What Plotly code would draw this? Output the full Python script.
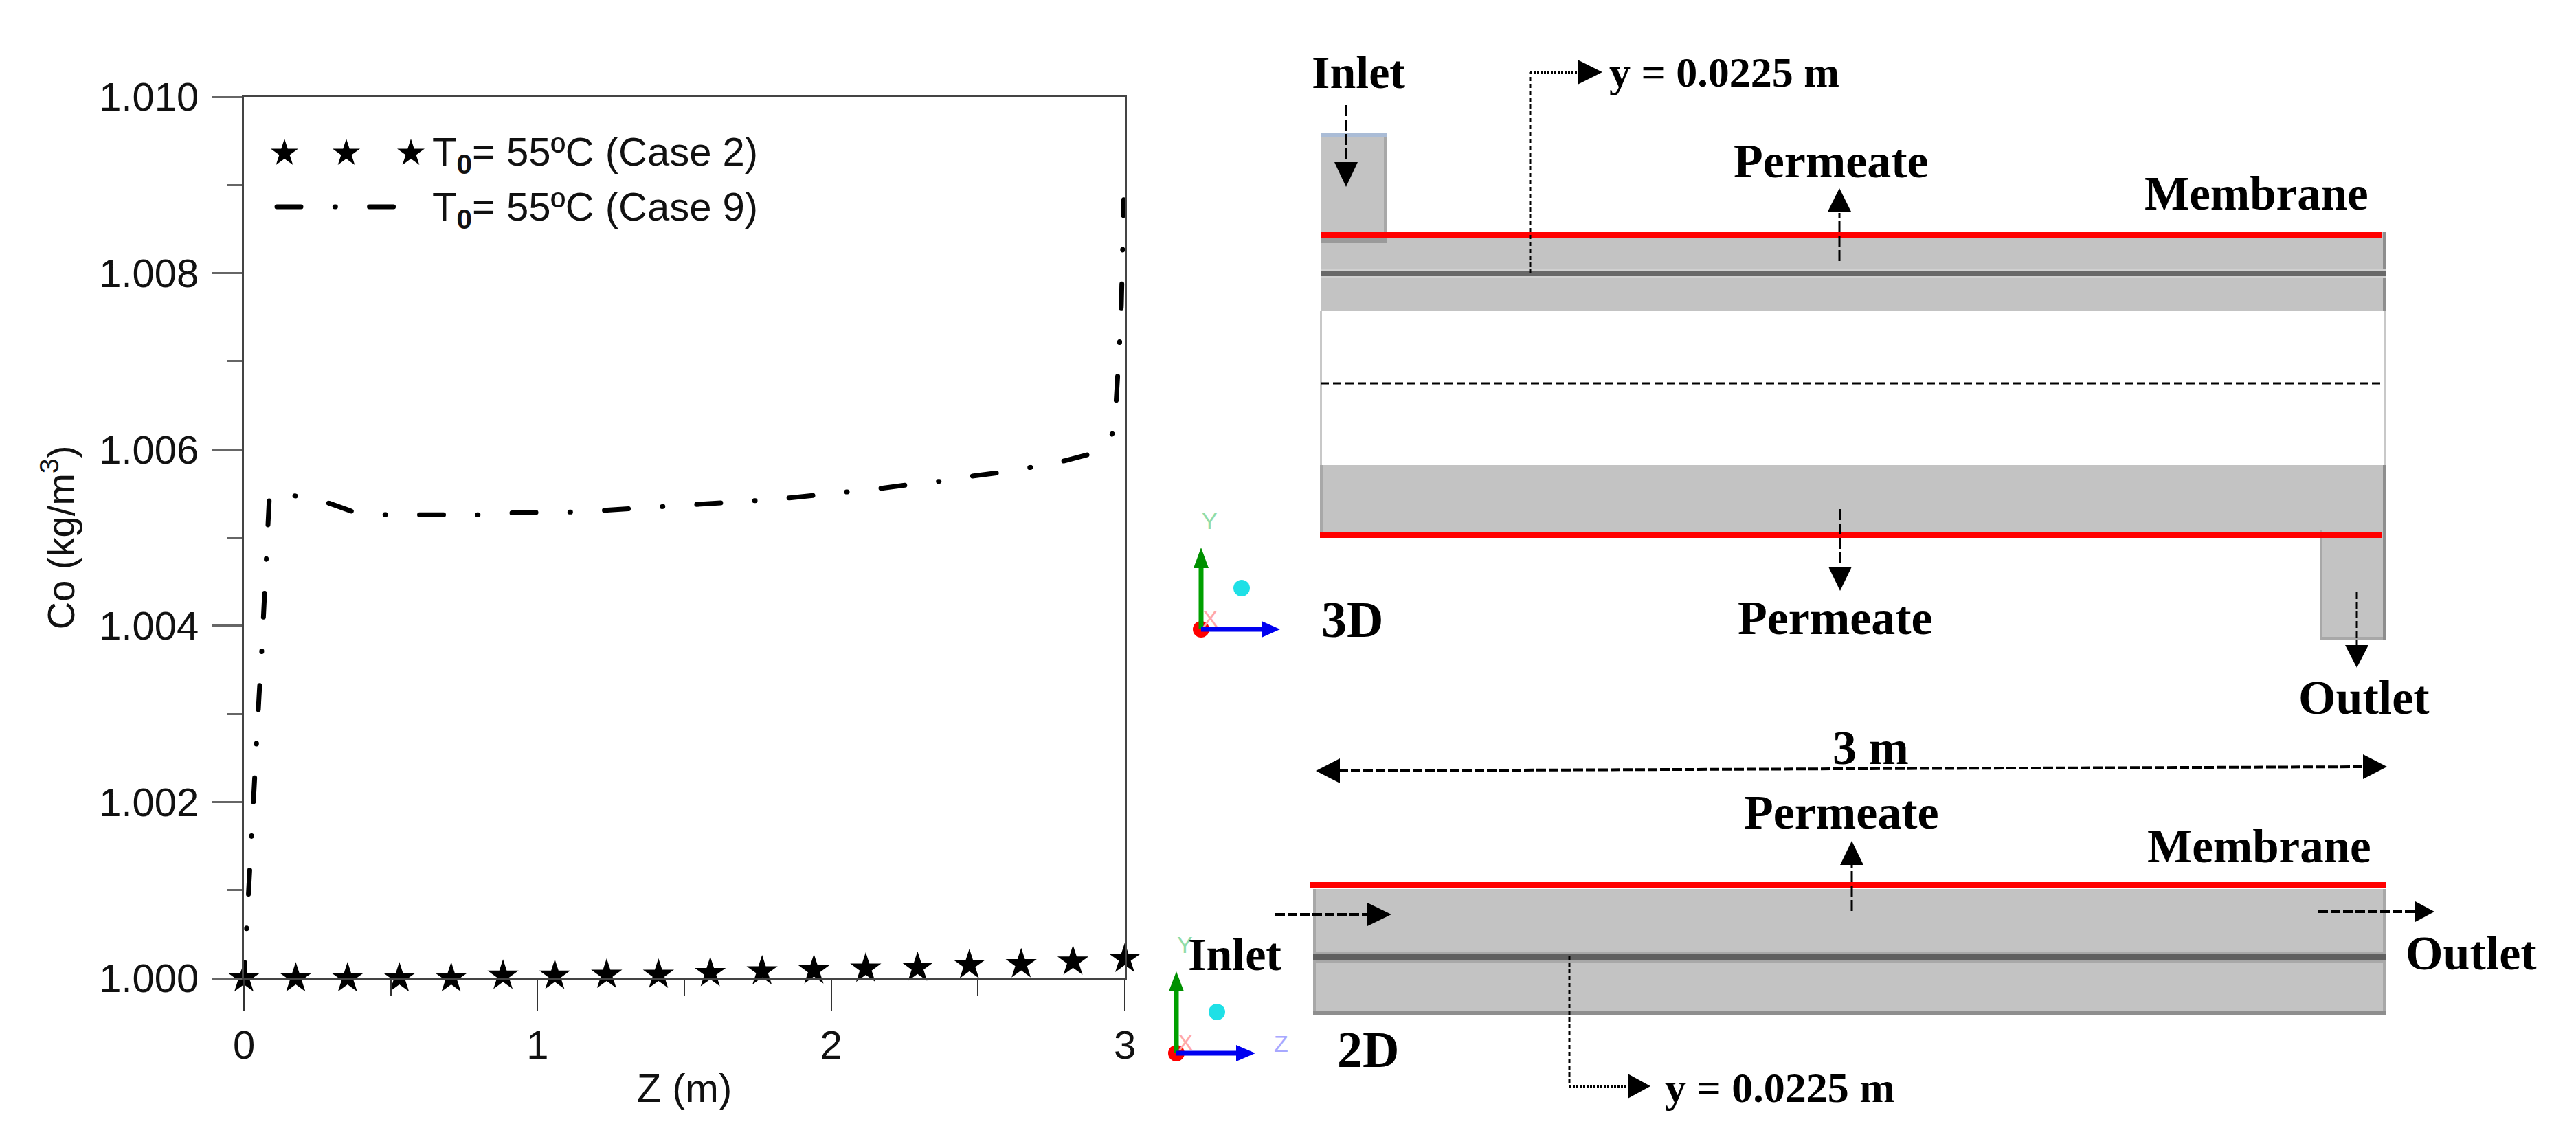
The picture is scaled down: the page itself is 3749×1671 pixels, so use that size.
import plotly.graph_objects as go

W, H = 3749, 1671

# chart values
Z_CASE_9 = [0, 0.0087, 0.0187, 0.0257, 0.0351, 0.0421, 0.0515, 0.0608, 0.0690, 0.0749, 0.0842, 0.0866,
            0.0959, 0.1287, 0.1802, 0.2902, 0.3744, 0.4867, 0.5991, 0.6927, 0.8027, 0.9126, 1.0086, 1.1186,
            1.2286, 1.3245, 1.4321, 1.5421, 1.6381, 1.7481, 1.8580, 1.9516, 2.0616, 2.1716, 2.2652, 2.3752,
            2.4852, 2.5788, 2.6865, 2.7941, 2.8854, 2.9415, 2.9649, 2.9719, 2.9789, 2.9836, 2.9883, 2.9907,
            2.9930, 2.9953, 2.9977]
CO_CASE_9 = [1.00000, 1.00058, 1.00110, 1.00162, 1.00215, 1.00267, 1.00320, 1.00372, 1.00426, 1.00477,
             1.00529, 1.00546, 1.00553, 1.00550, 1.00547, 1.00539, 1.00529, 1.00526, 1.00526, 1.00526,
             1.00526, 1.00528, 1.00528, 1.00529, 1.00531, 1.00533, 1.00535, 1.00537, 1.00539, 1.00542,
             1.00545, 1.00548, 1.00552, 1.00556, 1.00560, 1.00564, 1.00570, 1.00574, 1.00580, 1.00587,
             1.00595, 1.00607, 1.00623, 1.00659, 1.00691, 1.00728, 1.00765, 1.00797, 1.00833, 1.00870,
             1.00901]
Z_CASE_2 = [0, 0.1765, 0.3529, 0.5294, 0.7059, 0.8824, 1.0588, 1.2353, 1.4118, 1.5882, 1.7647, 1.9412,
            2.1176, 2.2941, 2.4706, 2.6471, 2.8235, 3.0]
CO_CASE_2 = [1.00000, 1.00000, 1.00000, 1.00000, 1.00000, 1.00003, 1.00003, 1.00004, 1.00004, 1.00006,
             1.00008, 1.00009, 1.00011, 1.00012, 1.00015, 1.00016, 1.00019, 1.00022]

X_TICKS = [0, 1, 2, 3]
X_MINOR = [0.5, 1.5, 2.5]
Y_TICKS = [1.000, 1.002, 1.004, 1.006, 1.008, 1.010]
Y_TICK_TEXT = ['1.000', '1.002', '1.004', '1.006', '1.008', '1.010']
Y_MINOR = [1.001, 1.003, 1.005, 1.007, 1.009]

LEGEND_LABELS = ['T<sub><b>0</b></sub>= 55ºC (Case 2)', 'T<sub><b>0</b></sub>= 55ºC (Case 9)']

SANS = 'Liberation Sans'
SERIF = 'Liberation Serif'
GRAY = '#c3c3c3'
# round caps are added in the page script, they make the 1px dash a dot
DASH_DOT = [35, 49.3, 1, 49.3]

fig = go.Figure()

# first dash is cut short where the curve starts
curve_dash = ','.join(f'{v}px' for v in [23, 49.3, 1, 49.3] + DASH_DOT * 16)
fig.add_trace(go.Scatter(x=Z_CASE_9, y=CO_CASE_9, mode='lines', name='Case 9', cliponaxis=False,
                         line=dict(color='black', width=7, dash=curve_dash)))
fig.add_trace(go.Scatter(x=Z_CASE_2, y=CO_CASE_2, mode='markers', name='Case 2', cliponaxis=False,
                         marker=dict(symbol='star', size=34, color='black')))

# legend samples sit on a second, full-page axis pair counted in pixels
fig.add_trace(go.Scatter(x=[414, 504, 598], y=[223, 223, 223], mode='markers', xaxis='x2', yaxis='y2',
                         marker=dict(symbol='star', size=30, color='black')))
fig.add_trace(go.Scatter(x=[403, 574], y=[301, 301], mode='lines', xaxis='x2', yaxis='y2',
                         line=dict(color='black', width=7, dash=','.join(f'{v}px' for v in DASH_DOT * 2))))


def rect(x0, y0, x1, y1, color):
    fig.add_shape(type='rect', xref='x2', yref='y2', x0=x0, y0=y0, x1=x1, y1=y1,
                  fillcolor=color, line_width=0, layer='above')


def line(x0, y0, x1, y1, width=3, dash='solid', color='black'):
    fig.add_shape(type='line', xref='x2', yref='y2', x0=x0, y0=y0, x1=x1, y1=y1,
                  line=dict(color=color, width=width, dash=dash), layer='above')


def head(tx, ty, bx, by, half, color='black'):
    # triangle from a base point to the tip, half = half the base width
    if tx == bx:
        pts = [(tx, ty), (bx - half, by), (bx + half, by)]
    else:
        pts = [(tx, ty), (bx, by - half), (bx, by + half)]
    path = 'M ' + ' L '.join(f'{a},{b}' for a, b in pts) + ' Z'
    fig.add_shape(type='path', xref='x2', yref='y2', path=path, fillcolor=color, line_width=0, layer='above')


def ball(cx, cy, r, color):
    fig.add_shape(type='circle', xref='x2', yref='y2', x0=cx - r, y0=cy - r, x1=cx + r, y1=cy + r,
                  fillcolor=color, line_width=0, layer='above')


def label(x, y, text, size=68, color='black', font=SERIF, anchor='left', bold=True):
    fig.add_annotation(xref='x2', yref='y2', x=x, y=y, text=f'<b>{text}</b>' if bold else text, showarrow=False,
                       xanchor=anchor, yanchor='middle', borderpad=0,
                       font=dict(family=font, size=size, color=color))


def triad(ox, oy, tip_y, base_y, tip_x, base_x, bx, by, z_label=None):
    ball(ox, oy, 12, '#ff0000')
    line(ox, oy, ox, base_y, width=7, color='#00a000')
    head(ox, tip_y, ox, base_y, 11, '#009000')
    line(ox, oy, base_x, oy, width=7, color='#0000f0')
    head(tip_x, oy, base_x, oy, 12, '#0000f0')
    ball(bx, by, 12, '#1fe0e6')
    label(ox + 12, tip_y - 39, 'Y', size=34, color='#90dca8', font=SANS, anchor='center', bold=False)
    label(ox + 13, oy - 16, 'X', size=34, color='#ffa8a8', font=SANS, anchor='center', bold=False)
    if z_label:
        label(tip_x + 37, oy - 14, z_label, size=34, color='#a8a8ff', font=SANS, anchor='center', bold=False)


# 3D module
rect(1922, 338, 3472, 453, GRAY)
rect(1922, 677, 3472, 779, GRAY)
rect(1922, 194, 2018, 354, GRAY)
rect(1922, 194, 2018, 200, '#aabcd6')
rect(2014, 200, 2018, 338, '#a8a8a8')
rect(1922, 346, 2018, 354, '#9a9a9a')
rect(3376, 772, 3472, 932, GRAY)
rect(3376, 772, 3380, 932, '#a8a8a8')
rect(3376, 927, 3472, 932, '#a8a8a8')
rect(3468, 338, 3473, 453, '#8e8e8e')
rect(3468, 677, 3473, 932, '#8e8e8e')
rect(1921, 677, 1926, 779, '#a8a8a8')
rect(1921, 453, 1924, 677, '#c8c8c8')
rect(3469, 453, 3472, 677, '#c8c8c8')
rect(1922, 391, 3472, 405, '#d0d0d0')
rect(1922, 394, 3472, 402, '#686868')
rect(1922, 338, 3467, 346, '#ff0000')
rect(1921, 775, 3467, 783, '#ff0000')
line(1922, 558, 3470, 558, width=3, dash='12px,6px')

line(1959, 153, 1959, 238, dash='16px,5px')
head(1959, 272, 1959, 236, 17)
line(2227, 398, 2227, 105, dash='6px,4px')
line(2227, 105, 2298, 105, dash='3px,2px', width=4)
head(2332, 105, 2296, 105, 18)
line(2677, 380, 2677, 310, dash='16px,5px')
head(2677, 274, 2677, 308, 17)
line(2678, 741, 2678, 827, dash='16px,5px')
head(2678, 860, 2678, 825, 17)
line(3430, 862, 3430, 941, dash='10px,4px')
head(3430, 972, 3430, 939, 17)
triad(1748, 916, 797, 827, 1863, 1836, 1807, 856)

# length arrow
line(1948, 1122, 3440, 1116, width=4, dash='14px,4px')
head(1915, 1122, 1950, 1122, 18)
head(3474, 1116, 3439, 1116, 18)

# 2D module
rect(1911, 1294, 3472, 1478, GRAY)
rect(1911, 1294, 1915, 1478, '#a8a8a8')
rect(3468, 1294, 3472, 1478, '#a8a8a8')
rect(1911, 1472, 3472, 1478, '#8e8e8e')
rect(1911, 1386, 3472, 1401, '#a8a8a8')
rect(1911, 1389, 3472, 1398, '#606060')
rect(1907, 1284, 3472, 1293, '#ff0000')
line(1856, 1331, 1992, 1331, width=4, dash='14px,4px')
head(2025, 1331, 1990, 1331, 17)
line(2695, 1326, 2695, 1257, dash='16px,5px')
head(2695, 1224, 2695, 1259, 17)
line(3374, 1327, 3517, 1327, width=4, dash='14px,4px')
head(3543, 1327, 3515, 1327, 15)
line(2284, 1391, 2284, 1581, dash='6px,4px')
line(2284, 1581, 2371, 1581, dash='3px,2px', width=4)
head(2402, 1581, 2369, 1581, 18)
triad(1712, 1533, 1414, 1443, 1827, 1799, 1771, 1473, z_label='Z')

# schematic text
label(1977, 105, 'Inlet', anchor='center')
label(2341, 105, 'y = 0.0225 m', size=62)
label(2665, 234, 'Permeate', size=70, anchor='center')
label(3284, 282, 'Membrane', size=69, anchor='center')
label(2671, 899, 'Permeate', size=70, anchor='center')
label(3440, 1015, 'Outlet', size=70, anchor='center')
label(1968, 902, '3D', size=74, anchor='center')
label(2722, 1088, '3 m', size=70, anchor='center')
label(2680, 1182, 'Permeate', size=70, anchor='center')
label(3288, 1232, 'Membrane', size=69, anchor='center')
label(1797, 1389, 'Inlet', anchor='center')
label(3596, 1387, 'Outlet', size=70, anchor='center')
label(1991, 1528, '2D', size=74, anchor='center')
label(2422, 1583, 'y = 0.0225 m', size=62)

# legend text
for y_px, text in zip([225, 305], LEGEND_LABELS):
    label(628, y_px, text, size=58, color='#111111', font=SANS, bold=False)

axis_font = dict(family=SANS, size=58, color='#111111')
fig.update_layout(
    width=W, height=H,
    margin=dict(l=0, r=0, t=0, b=0),
    paper_bgcolor='white',
    plot_bgcolor='rgba(0,0,0,0)',
    showlegend=False,
    font=dict(family=SANS),
    xaxis=dict(domain=[355 / W, 1637 / W], range=[0, 3], anchor='y', tickmode='array', tickvals=X_TICKS,
               ticktext=[str(v) for v in X_TICKS], ticks='outside', ticklen=44, tickwidth=2, tickcolor='#333333',
               minor=dict(tickmode='array', tickvals=X_MINOR, ticks='outside', ticklen=23, tickwidth=2,
                          tickcolor='#333333'),
               showgrid=False, zeroline=False, showline=True, mirror=True, linewidth=3, linecolor='#444444',
               tickfont=axis_font, automargin=False,
               title=dict(text='Z (m)', font=axis_font, standoff=12)),
    yaxis=dict(domain=[1 - 1424 / H, 1 - 141 / H], range=[1.0, 1.01], anchor='x', tickmode='array',
               tickvals=Y_TICKS, ticktext=Y_TICK_TEXT, ticks='outside', ticklen=43, tickwidth=3,
               tickcolor='#666666', ticklabelstandoff=8,
               minor=dict(tickmode='array', tickvals=Y_MINOR, ticks='outside', ticklen=22, tickwidth=3,
                          tickcolor='#666666'),
               showgrid=False, zeroline=False, showline=True, mirror=True, linewidth=3, linecolor='#444444',
               tickfont=axis_font, automargin=False,
               title=dict(text='Co (kg/m<sup>3</sup>)', font=dict(family=SANS, size=56, color='#111111'), standoff=18)),
    xaxis2=dict(domain=[0, 1], range=[0, W], anchor='y2', visible=False, fixedrange=True),
    yaxis2=dict(domain=[0, 1], range=[H, 0], anchor='x2', visible=False, fixedrange=True),
)

page_js = """document.body.style.margin='0';
document.querySelectorAll('.scatterlayer .js-line').forEach(function (p) { p.style.strokeLinecap = 'round'; });"""
fig.write_html('out.html', config={'displayModeBar': False}, post_script=page_js)
